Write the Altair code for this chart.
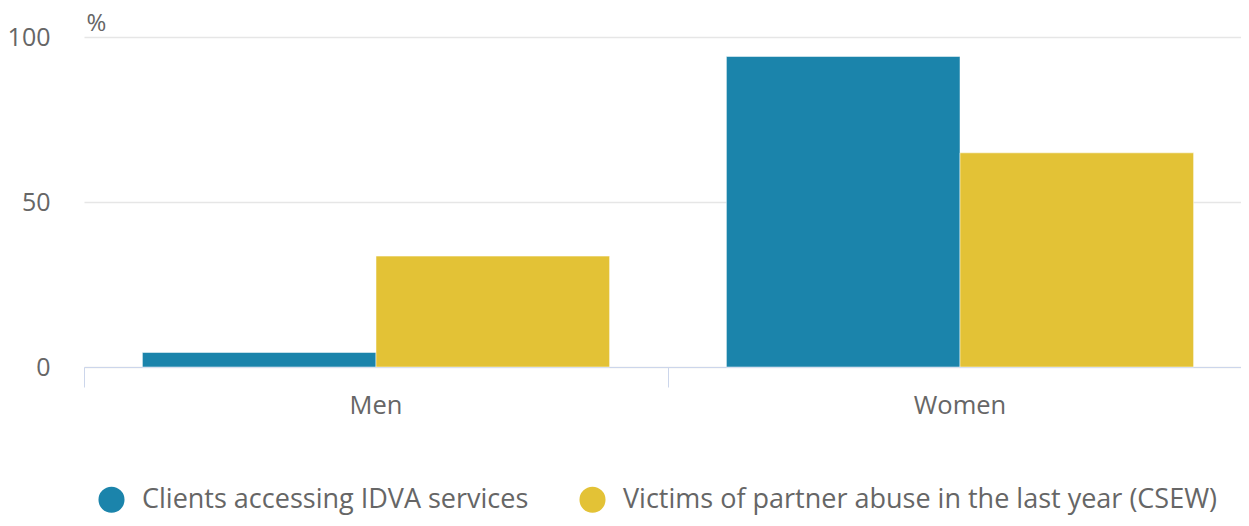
import altair as alt
import pandas as pd

categories = ["Men", "Women"]
series = ["Clients accessing IDVA services", "Victims of partner abuse in the last year (CSEW)"]
idva_values = [4.4, 94.1]
csew_values = [33.6, 64.9]
colors = ["#1b84ab", "#e3c236"]

rows = []
for i, c in enumerate(categories):
    rows.append({"group": c, "series": series[0], "value": idva_values[i]})
    rows.append({"group": c, "series": series[1], "value": csew_values[i]})
df = pd.DataFrame(rows)

FONT = "Open Sans"

chart = alt.Chart(df).mark_bar(stroke="white", strokeWidth=0.5).encode(
    x=alt.X("group:N", sort=categories,
            scale=alt.Scale(paddingInner=0, paddingOuter=0, range=[0, 1168]),
            axis=alt.Axis(title=None, labelAngle=0, bandPosition=0,
                          domainColor="#ccd6eb", tickColor="#ccd6eb",
                          tickSize=20, labelPadding=6, labelFontSize=25.5,
                          labelColor="#666666", labelFont=FONT, grid=False)),
    xOffset=alt.XOffset("series:N", sort=series,
                        scale=alt.Scale(paddingInner=0, paddingOuter=0.25)),
    y=alt.Y("value:Q", scale=alt.Scale(domain=[0, 100], nice=False),
            axis=alt.Axis(values=[0, 50, 100], title="%", titleAngle=0,
                          titleAlign="left", titleBaseline="alphabetic",
                          titleX=2, titleY=-7, titleFontSize=24,
                          titleFontWeight="normal", titleColor="#666666",
                          titleFont=FONT, domain=False, ticks=False,
                          gridColor="#e6e6e6", gridWidth=1.5,
                          labelPadding=34, labelFontSize=25,
                          labelColor="#666666", labelFont=FONT)),
    color=alt.Color("series:N", sort=series,
                    scale=alt.Scale(domain=series, range=colors),
                    legend=alt.Legend(title=None, orient="none",
                                      direction="horizontal",
                                      legendX=14, legendY=449,
                                      symbolType="circle", symbolSize=680,
                                      symbolStrokeWidth=0,
                                      labelFontSize=27, labelColor="#666666",
                                      labelFont=FONT, labelOffset=17,
                                      columnPadding=50, labelLimit=800)),
).properties(
    width=1157, height=330,
    autosize=alt.AutoSizeParams(type="none"),
    padding={"left": 76, "top": 29, "right": 0, "bottom": 151},
).configure_view(stroke=None)

chart.save("out.html", embed_options={"renderer": "svg", "actions": False})
